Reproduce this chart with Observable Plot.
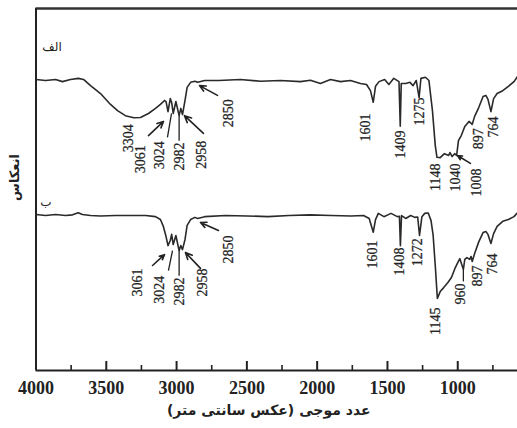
<!DOCTYPE html>
<html>
<head>
<meta charset="utf-8">
<script src="https://cdn.jsdelivr.net/npm/d3@7"></script>
<script src="https://cdn.jsdelivr.net/npm/@observablehq/plot@0.6"></script>
<style>
  body { margin: 0; background: #fff; }
  #chart svg { display: block; }
</style>
</head>
<body>
<div id="chart"></div>
<script>
// IR reflectance spectra of two samples (الف above, ب below), arbitrary offset units.
const waveA = [4000, 3932, 3861, 3812, 3755, 3698, 3662, 3612, 3541, 3470, 3420, 3364, 3304, 3257, 3200, 3150, 3115, 3086, 3075, 3061, 3045, 3035, 3024, 3005, 2982, 2970, 2958, 2940, 2925, 2900, 2870, 2850, 2800, 2700, 2546, 2403, 2261, 2119, 2048, 1977, 1905, 1834, 1763, 1692, 1649, 1621, 1601, 1585, 1560, 1520, 1490, 1455, 1418, 1409, 1402, 1370, 1340, 1318, 1295, 1275, 1262, 1230, 1205, 1180, 1160, 1148, 1125, 1095, 1065, 1055, 1040, 1022, 1008, 995, 975, 950, 920, 897, 880, 850, 820, 800, 785, 764, 745, 720, 680, 640, 600, 575];
const reflA = [80.4, 80.1, 80.4, 79.8, 80.4, 80.7, 80.4, 78.7, 76.5, 73.5, 71.8, 70.4, 69.8, 69.9, 71.0, 72.4, 73.5, 74.6, 74.3, 71.5, 75.1, 74.0, 71.0, 74.3, 70.4, 72.4, 70.7, 74.6, 78.2, 79.6, 79.9, 79.6, 80.1, 80.1, 80.4, 79.9, 80.1, 79.8, 80.2, 79.3, 80.4, 79.8, 80.1, 79.3, 79.0, 77.3, 74.1, 78.5, 79.8, 80.4, 79.0, 80.7, 79.8, 67.5, 79.3, 79.3, 79.6, 78.7, 80.1, 75.4, 80.7, 81.0, 80.1, 71.8, 62.2, 58.9, 58.8, 59.9, 59.4, 60.2, 59.1, 59.9, 59.4, 63.5, 64.9, 67.4, 68.8, 68.0, 70.2, 72.7, 75.7, 76.0, 74.9, 71.5, 75.1, 76.5, 77.3, 78.5, 79.8, 81.2];

const waveB = [4000, 3932, 3861, 3790, 3740, 3700, 3670, 3612, 3541, 3435, 3328, 3220, 3150, 3115, 3094, 3075, 3061, 3045, 3035, 3024, 3005, 2982, 2970, 2958, 2940, 2925, 2900, 2870, 2850, 2800, 2650, 2500, 2350, 2200, 2050, 1900, 1760, 1670, 1630, 1601, 1585, 1565, 1525, 1475, 1430, 1415, 1408, 1400, 1370, 1335, 1305, 1285, 1272, 1255, 1235, 1210, 1190, 1175, 1160, 1145, 1125, 1100, 1070, 1045, 1020, 1000, 985, 960, 950, 935, 915, 905, 897, 880, 850, 820, 800, 785, 764, 745, 720, 680, 640, 600, 575];
const reflB = [43.1, 42.8, 43.1, 42.8, 43.0, 43.6, 43.1, 42.8, 42.7, 42.8, 42.8, 42.8, 42.5, 41.7, 39.8, 37.0, 34.5, 35.9, 37.6, 34.8, 37.3, 33.1, 34.5, 33.4, 36.2, 40.1, 41.7, 42.3, 42.0, 42.5, 42.8, 42.7, 42.5, 42.8, 43.0, 42.8, 42.7, 42.8, 42.0, 38.2, 41.7, 43.4, 42.5, 43.4, 42.5, 42.6, 34.5, 42.8, 42.0, 42.8, 42.3, 42.4, 37.3, 42.5, 43.4, 43.5, 41.4, 37.3, 29.0, 19.9, 21.8, 22.9, 24.3, 25.7, 28.2, 29.8, 30.9, 27.9, 30.7, 31.2, 30.7, 31.5, 30.1, 32.3, 35.6, 38.1, 38.4, 37.6, 35.1, 37.8, 39.8, 41.2, 41.7, 42.5, 43.6];

// Assigned band positions (cm⁻¹)
const peaksA = [3304, 3061, 3024, 2982, 2958, 2850, 1601, 1409, 1275, 1148, 1040, 1008, 897, 764];
const peaksB = [3061, 3024, 2982, 2958, 2850, 1601, 1408, 1272, 1145, 960, 897, 764];

// Axis ticks
const majorTicks = [4000, 3500, 3000, 2500, 2000, 1500, 1000];
const minorTicks = [3750, 3250, 2750, 2250, 1750, 1250, 750];

// Text labels
const sampleNames = ["الف", "ب"];
const yTitle = "انعکاس";
const xTitle = "عدد موجی (عکس سانتی متر)";

// ---- layout of the annotations: [label x (cm⁻¹), label top (y units)] ----
const labelPosA = [[3342, 68.0], [3257, 62.2], [3120, 63.3], [2979, 63.0], [2823, 63.5], [2631, 74.9], [1657, 71.0], [1408, 66.3], [1273, 75.4], [1159, 57.2], [1017, 57.2], [863, 55.8], [850, 66.9], [743, 70.2]];
const labelPosB = [[3278, 28.2], [3122, 26.2], [2979, 25.7], [2816, 28.2], [2631, 37.3], [1607, 35.9], [1415, 34.0], [1287, 36.5], [1159, 17.4], [981, 24.0], [860, 29.0], [753, 32.3]];
// arrows [x1, y1, x2, y2], head at the second point
const arrowSegs = [
  [3200, 64.9, 3093, 68.8], [2809, 65.5, 2944, 70.4], [2709, 76.0, 2837, 78.7], [910, 57.2, 1002, 59.4],
  [3171, 29.0, 3086, 32.0], [2830, 28.2, 2937, 32.6], [2702, 38.7, 2830, 40.9]
];
// plain leader lines [x1, y1, x2, y2]
const leaderSegs = [
  [3065, 64.4, 3036, 71.0], [2982, 63.5, 2982, 70.4],
  [3058, 27.6, 3029, 33.1], [2982, 26.2, 2982, 33.1], [960, 27.9, 960, 24.6]
];

const traceA = waveA.map((w, i) => ({w, v: reflA[i]}));
const traceB = waveB.map((w, i) => ({w, v: reflB[i]}));
const labelsA = peaksA.map((p, i) => ({text: String(p), x: labelPosA[i][0], y: labelPosA[i][1]}));
const labelsB = peaksB.map((p, i) => ({text: String(p), x: labelPosB[i][0], y: labelPosB[i][1]}));
const peakLabels = labelsA.concat(labelsB);

const ink = "#222";
const serif = "'Liberation Serif', 'Times New Roman', serif";
const persian = "'DejaVu Sans', sans-serif";

const chart = Plot.plot({
  width: 517,
  height: 428,
  marginLeft: 35.5,
  marginRight: 0,
  marginTop: 8,
  marginBottom: 58,
  x: {domain: [4000, 575], label: null},
  y: {domain: [0, 100], axis: null},
  style: {background: "#fff", overflow: "visible"},
  marks: [
    // frame: top, bottom and left edges
    Plot.ruleY([100], {stroke: "#333", strokeWidth: 2.5}),
    Plot.ruleY([0], {stroke: ink, strokeWidth: 2}),
    Plot.ruleX([4000], {stroke: ink, strokeWidth: 2}),
    // inward ticks on the wavenumber axis
    Plot.ruleX(majorTicks, {stroke: ink, strokeWidth: 2, insetTop: 353}),
    Plot.ruleX(minorTicks, {stroke: ink, strokeWidth: 1.6, insetTop: 357}),
    Plot.axisX({
      ticks: majorTicks, tickSize: 0, tickPadding: 11, tickFormat: d => String(d),
      fontSize: 18, fontFamily: serif, fontWeight: "bold", fill: ink, label: null
    }),
    // spectra
    Plot.line(traceA, {x: "w", y: "v", stroke: "#2a2a2a", strokeWidth: 1.6}),
    Plot.line(traceB, {x: "w", y: "v", stroke: "#2a2a2a", strokeWidth: 1.6}),
    // band annotations
    Plot.link(leaderSegs, {x1: d => d[0], y1: d => d[1], x2: d => d[2], y2: d => d[3], stroke: ink, strokeWidth: 1.3}),
    Plot.arrow(arrowSegs, {x1: d => d[0], y1: d => d[1], x2: d => d[2], y2: d => d[3], stroke: ink, strokeWidth: 1.6, headLength: 7, headAngle: 50}),
    Plot.text(peakLabels, {
      x: "x", y: "y", text: "text", rotate: -90, textAnchor: "end", lineAnchor: "middle",
      fontSize: 14, fontFamily: serif, fill: ink, stroke: ink, strokeWidth: 0.25
    }),
    // sample names
    Plot.text([sampleNames[0]], {frameAnchor: "top-left", dx: 16, dy: 34, textAnchor: "middle", fontSize: 12, fontFamily: persian, fill: ink}),
    Plot.text([sampleNames[1]], {frameAnchor: "top-left", dx: 10, dy: 189, textAnchor: "middle", fontSize: 12, fontFamily: persian, fill: ink}),
    // axis titles
    Plot.text([yTitle], {frameAnchor: "left", dx: -21, dy: -12, rotate: -90, textAnchor: "middle", fontSize: 13, fontWeight: "bold", fontFamily: persian, fill: ink}),
    Plot.text([xTitle], {frameAnchor: "bottom", dx: -8, dy: 44, textAnchor: "middle", fontSize: 14, fontWeight: "bold", fontFamily: persian, fill: ink})
  ]
});

document.getElementById("chart").append(chart);
</script>
</body>
</html>
